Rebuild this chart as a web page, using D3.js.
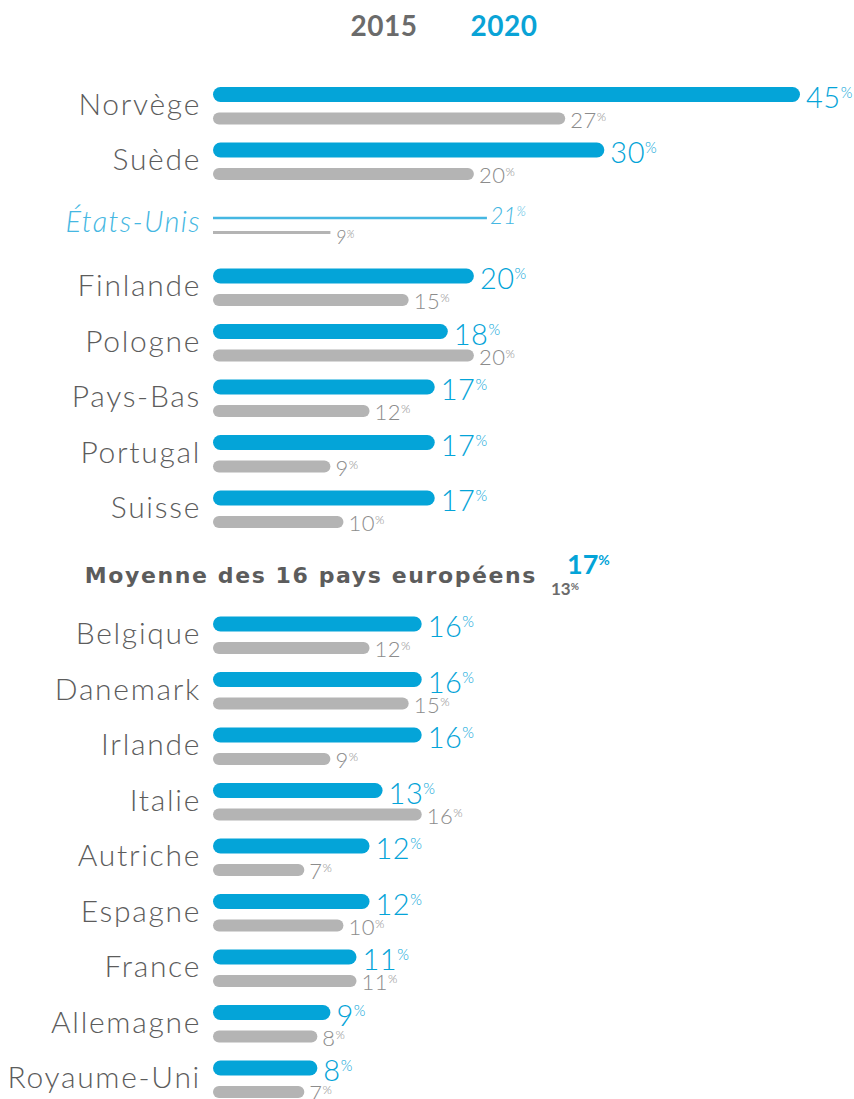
<!DOCTYPE html>
<html>
<head>
<meta charset="utf-8">
<script src="https://cdn.jsdelivr.net/npm/d3@7"></script>
<style>
  body { margin: 0; background: #fff; }
  svg { display: block; font-family: Lato, "Open Sans", sans-serif; }
</style>
</head>
<body>
<div id="chart"></div>
<script>
'use strict';

// data
const countries = ["Norvège", "Suède", "États-Unis", "Finlande", "Pologne", "Pays-Bas", "Portugal", "Suisse",
  "Moyenne des 16 pays européens",
  "Belgique", "Danemark", "Irlande", "Italie", "Autriche", "Espagne", "France", "Allemagne", "Royaume-Uni"];
const values2020 = [45, 30, 21, 20, 18, 17, 17, 17, 17, 16, 16, 16, 13, 12, 12, 11, 9, 8];
const values2015 = [27, 20, 9, 15, 20, 12, 9, 10, 13, 12, 15, 9, 16, 7, 10, 11, 8, 7];
const years = ["2015", "2020"];
const outsider = "États-Unis";
const average = "Moyenne des 16 pays européens";

const blue = "#04a4d8";
const lightBlue = "#45b7e2";
const grey = "#b4b4b4";
const labelColor = "#5c5c5c";
const greyText = "#8c8c8c";

const width = 854, height = 1099;

const svg = d3.select("#chart").append("svg")
  .attr("width", width)
  .attr("height", height);

const xScale = d3.scaleLinear()
  .domain([0, 45])
  .range([213, 800]);

const yScale = d3.scalePoint()
  .domain(countries)
  .range([94.5, 94.5 + 55.5 * (countries.length - 1)]);

// extra room around the US row and the average row
function rowY(name, i) {
  let shift = i >= 9 ? 30 : i >= 3 ? 15 : 0;
  if (name === outsider) shift = 12.5;
  if (name === average) shift = 35;
  return yScale(name) + shift;
}

const rows = countries.map((c, i) => ({ name: c, v20: values2020[i], v15: values2015[i], y: rowY(c, i) }));

// header
const yearColor = d3.scaleOrdinal().domain(years).range(["#6b6b6b", "#0aa3d6"]);
svg.append("g").selectAll("text")
  .data(years)
  .join("text")
  .attr("x", (d, i) => i === 0 ? 384 : 504)
  .attr("y", 36)
  .attr("text-anchor", "middle")
  .attr("font-weight", 700)
  .attr("font-size", 28)
  .attr("letter-spacing", 0.5)
  .attr("fill", d => yearColor(d))
  .text(d => d);

function pct(sel, v, size, supSize, rise) {
  sel.append("tspan").text(v);
  sel.append("tspan")
    .attr("font-size", supSize)
    .attr("dy", -rise)
    .text("%");
}

const normal = rows.filter(d => d.name !== outsider && d.name !== average);
const us = rows.find(d => d.name === outsider);
const avg = rows.find(d => d.name === average);

const g = svg.append("g");

// blue bars (2020)
g.selectAll("rect.b20")
  .data(normal)
  .join("rect")
  .attr("class", "b20")
  .attr("x", xScale(0))
  .attr("y", d => d.y - 7.5)
  .attr("width", d => xScale(d.v20) - xScale(0))
  .attr("height", 15)
  .attr("rx", 7.5)
  .attr("fill", blue);

// grey bars (2015)
g.selectAll("rect.b15")
  .data(normal)
  .join("rect")
  .attr("class", "b15")
  .attr("x", xScale(0))
  .attr("y", d => d.y + 24 - 6)
  .attr("width", d => xScale(d.v15) - xScale(0))
  .attr("height", 12)
  .attr("rx", 6)
  .attr("fill", grey);

// country labels
g.selectAll("text.label")
  .data(normal)
  .join("text")
  .attr("class", "label")
  .attr("x", 201)
  .attr("y", d => d.y + 20)
  .attr("text-anchor", "end")
  .attr("font-weight", 300)
  .attr("font-size", 30)
  .attr("letter-spacing", 1.7)
  .attr("fill", labelColor)
  .text(d => d.name);

// values 2020
g.selectAll("text.v20")
  .data(normal)
  .join("text")
  .attr("class", "v20")
  .attr("x", d => xScale(d.v20) + 6)
  .attr("y", d => d.y + 13)
  .attr("font-weight", 300)
  .attr("font-size", 29)
  .attr("letter-spacing", 0.5)
  .attr("fill", blue)
  .each(function (d) { pct(d3.select(this), d.v20, 29, 15, 10); });

// values 2015
g.selectAll("text.v15")
  .data(normal)
  .join("text")
  .attr("class", "v15")
  .attr("x", d => xScale(d.v15) + 5)
  .attr("y", d => d.y + 33)
  .attr("font-weight", 300)
  .attr("font-size", 22)
  .attr("letter-spacing", 0.5)
  .attr("fill", greyText)
  .each(function (d) { pct(d3.select(this), d.v15, 22, 12, 7); });

// United States: thin lines, italic
const usG = svg.append("g");
usG.append("line")
  .attr("x1", xScale(0)).attr("x2", xScale(us.v20))
  .attr("y1", us.y).attr("y2", us.y)
  .attr("stroke", lightBlue).attr("stroke-width", 2.5);
usG.append("line")
  .attr("x1", xScale(0)).attr("x2", xScale(us.v15))
  .attr("y1", us.y + 14.5).attr("y2", us.y + 14.5)
  .attr("stroke", grey).attr("stroke-width", 3);
usG.append("text")
  .attr("x", 201).attr("y", us.y + 14)
  .attr("text-anchor", "end")
  .attr("font-style", "italic").attr("font-weight", 300)
  .attr("font-size", 29).attr("letter-spacing", 1.3).attr("fill", lightBlue)
  .text(us.name);
usG.append("text")
  .attr("x", xScale(us.v20) + 3).attr("y", us.y + 6)
  .attr("font-style", "italic").attr("font-weight", 300)
  .attr("font-size", 23).attr("fill", lightBlue)
  .each(function () { pct(d3.select(this), us.v20, 23, 13, 8); });
usG.append("text")
  .attr("x", xScale(us.v15) + 5).attr("y", us.y + 26)
  .attr("font-style", "italic").attr("font-weight", 300)
  .attr("font-size", 19).attr("fill", greyText)
  .each(function () { pct(d3.select(this), us.v15, 19, 11, 6); });

// European average
const avgG = svg.append("g");
avgG.append("text")
  .attr("x", 537).attr("y", avg.y + 9)
  .attr("text-anchor", "end")
  .attr("font-family", "'DejaVu Sans', sans-serif")
  .attr("font-weight", 700)
  .attr("font-size", 22)
  .attr("letter-spacing", 1.6)
  .attr("fill", labelColor)
  .text(avg.name);
avgG.append("text")
  .attr("x", 567).attr("y", avg.y + 0)
  .attr("font-weight", 700)
  .attr("font-size", 27)
  .attr("fill", blue)
  .each(function () { pct(d3.select(this), avg.v20, 27, 14, 9); });
avgG.append("text")
  .attr("x", 551).attr("y", avg.y + 21)
  .attr("font-weight", 700)
  .attr("font-size", 17)
  .attr("fill", "#6b6b6b")
  .each(function () { pct(d3.select(this), avg.v15, 17, 10, 5); });
</script>
</body>
</html>
